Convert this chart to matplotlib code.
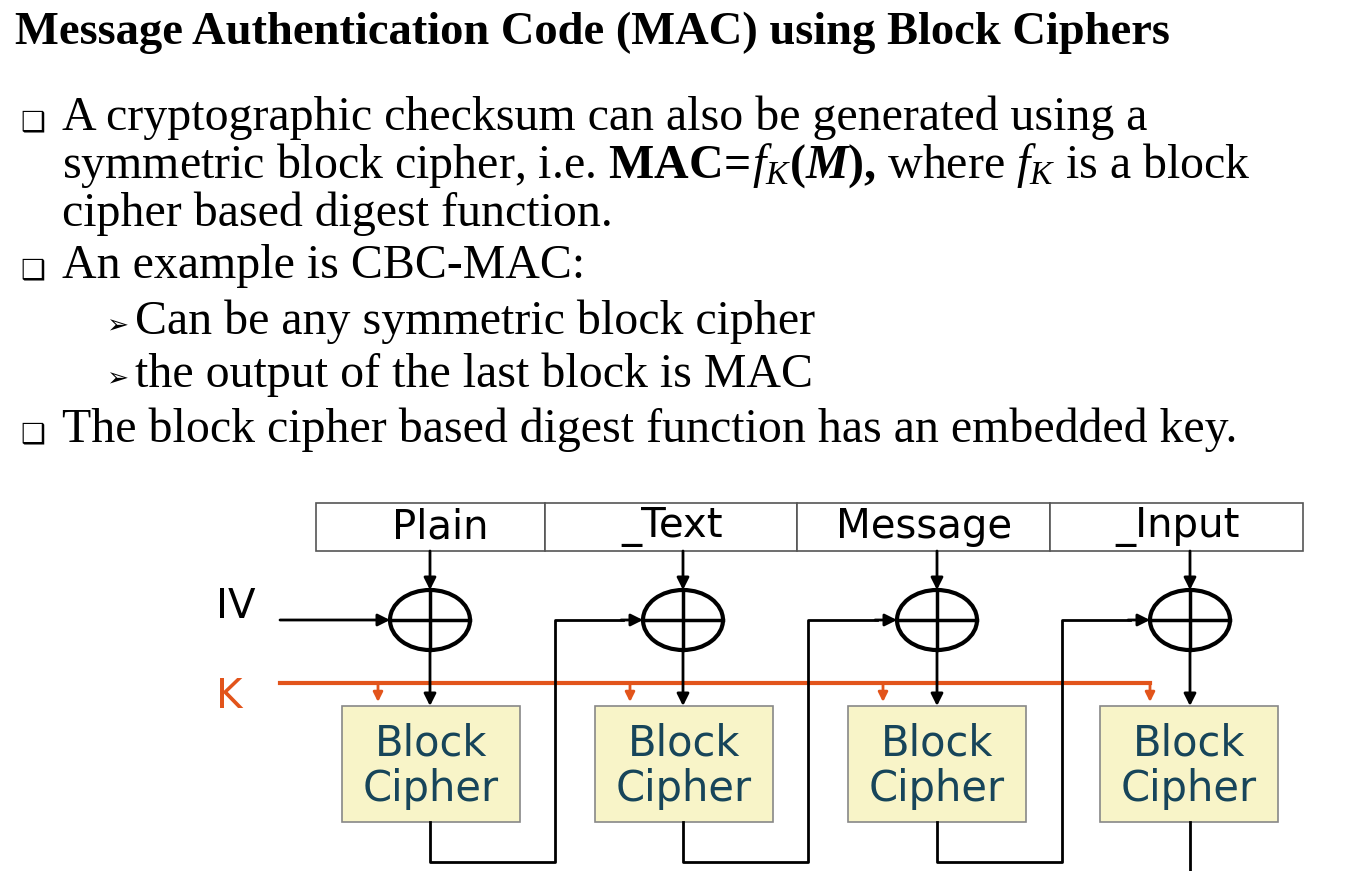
import matplotlib.pyplot as plt
from matplotlib.patches import Rectangle, Ellipse

plt.rcParams['mathtext.fontset'] = 'custom'
plt.rcParams['mathtext.rm'] = 'Liberation Serif'
plt.rcParams['mathtext.it'] = 'Liberation Serif:italic'
plt.rcParams['mathtext.bf'] = 'Liberation Serif:bold'
plt.rcParams['mathtext.bfit'] = 'Liberation Serif:italic:bold'

title = "Message Authentication Code (MAC) using Block Ciphers"
bullets = [
    ("box", 0, "A cryptographic checksum can also be generated using a"),
    (None, 0, r"symmetric block cipher, i.e. $\mathbf{MAC\!=\!}\boldsymbol{f_K(M)}\mathbf{,}$ where $f_K$ is a block"),
    (None, 0, "cipher based digest function."),
    ("box", 0, "An example is CBC-MAC:"),
    ("arrow", 1, "Can be any symmetric block cipher"),
    ("arrow", 1, "the output of the last block is MAC"),
    ("box", 0, "The block cipher based digest function has an embedded key."),
]
line_y = [118, 166, 214, 266, 322, 375, 430]

header_labels = ["Plain", "_Text", "Message", "_Input"]
header_x = [316, 545, 797, 1050, 1303]
label_x = [440, 672, 924, 1178]
xor_x = [430, 683, 937, 1190]
key_x = [378, 630, 883, 1150]
block_x = [342, 595, 848, 1100]
return_x = [555, 808, 1062]

fig = plt.figure(figsize=(13.45, 8.71), dpi=100)
ax = fig.add_axes([0, 0, 1, 1])
ax.set_xlim(0, 1345)
ax.set_ylim(871, 0)
ax.axis('off')

serif = ['Liberation Serif', 'DejaVu Sans']
ax.text(15, 33, title, fontsize=33.5, fontweight='bold', family=serif, va='center')

for (kind, lvl, txt), y in zip(bullets, line_y):
    if kind == "box":
        ax.text(20, y + 4, "❑", fontsize=20, family=['DejaVu Sans'], va='center')
    elif kind == "arrow":
        ax.text(106, y + 4, "➢", fontsize=19, family=['DejaVu Sans'], va='center')
    x0 = 62 if lvl == 0 else 135
    ax.text(x0, y, txt, fontsize=34.5, family=serif, va='center')

# header row
for i, lab in enumerate(header_labels):
    ax.add_patch(Rectangle((header_x[i], 503), header_x[i + 1] - header_x[i], 48,
                           facecolor='white', edgecolor='#555555', lw=1.2))
    ax.text(label_x[i], 527, lab, fontsize=29, family=['DejaVu Sans'],
            ha='center', va='center')

aprops = dict(arrowstyle='-|>', color='black', lw=2, mutation_scale=18, shrinkA=0, shrinkB=0)
oprops = dict(arrowstyle='-|>', color='#E2541B', lw=2, mutation_scale=14, shrinkA=0, shrinkB=0)

for i, x in enumerate(xor_x):
    ax.add_patch(Ellipse((x, 620), 80, 60, facecolor='white', edgecolor='black', lw=3, zorder=3))
    ax.plot([x - 40, x + 40], [620, 620], color='black', lw=2.5, zorder=4)
    ax.plot([x, x], [590, 650], color='black', lw=2.5, zorder=4)
    ax.annotate('', xy=(x, 590), xytext=(x, 551), arrowprops=aprops)
    ax.annotate('', xy=(x, 706), xytext=(x, 650), arrowprops=aprops)
    bx = block_x[i]
    ax.add_patch(Rectangle((bx, 706), 178, 116, facecolor='#F8F4C8', edgecolor='#888888', lw=1.2))
    ax.text(bx + 89, 766, "Block\nCipher", fontsize=30, family=['DejaVu Sans'], color='#17455A',
            ha='center', va='center', linespacing=1.1)

# IV
ax.text(216, 607, "IV", fontsize=29, family=['DejaVu Sans'], va='center')
ax.annotate('', xy=(390, 620), xytext=(280, 620), arrowprops=aprops)

# key
ax.text(216, 697, "K", fontsize=29, family=['DejaVu Sans'], color='#E2541B', va='center')
ax.plot([280, 1150], [683, 683], color='#E2541B', lw=3)
for x in key_x:
    ax.annotate('', xy=(x, 702), xytext=(x, 683), arrowprops=oprops)

# chaining
for i, rx in enumerate(return_x):
    x = xor_x[i]
    ax.plot([x, x, rx, rx, xor_x[i + 1] - 60], [822, 862, 862, 620, 620], color='black', lw=2)
    ax.annotate('', xy=(xor_x[i + 1] - 40, 620), xytext=(xor_x[i + 1] - 62, 620), arrowprops=aprops)
ax.plot([1190, 1190], [822, 871], color='black', lw=2)

fig.savefig('out.png', dpi=100, facecolor='white')
